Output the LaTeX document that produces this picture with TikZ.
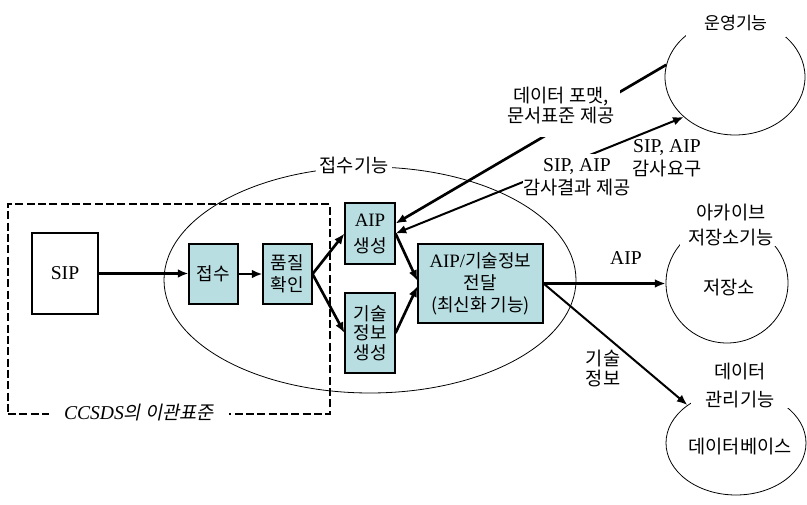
\documentclass[tikz,border=0pt]{standalone}
\usepackage{fontspec}
\setmainfont{Noto Sans CJK KR}
\newfontfamily\lat{Liberation Serif}[Scale=1.05]
\newfontfamily\krsl{Noto Sans CJK KR}[FakeSlant=0.2]
\usetikzlibrary{arrows.meta,shapes.geometric}
\definecolor{boxfill}{RGB}{185,222,225}

\begin{document}
\begin{tikzpicture}[x=0.75pt,y=-0.75pt,
  every node/.style={font=\fontsize{14}{16}\selectfont, inner sep=0pt, align=center},
  pbox/.style={draw, line width=0.8pt, fill=boxfill},
  func/.style={draw, ellipse, line width=0.6pt, inner sep=0pt},
  title/.style={fill=white},
  tipA/.style={-{Latex[length=8pt,width=6.5pt]}},
  flow/.style={line width=2pt, tipA},
  thinflow/.style={line width=1.5pt, tipA},
  border/.style={draw, line width=1.5pt, dash pattern=on 6pt off 2.5pt}]
\useasboundingbox (0,0) rectangle (807,505);

% ingest function (large ellipse) and the CCSDS standard frame
\node[func, minimum width=309pt, minimum height=169.5pt] (ingest) at (370,280) {};
\node[title, inner xsep=3pt, inner ysep=2pt] (ingesttitle) at (354,166) {접수기능};
\node[border, minimum width=241.5pt, minimum height=157.5pt] (ccsds) at (169,309) {};
\node[title, inner xsep=11pt, inner ysep=3pt] (ccsdstitle) at (139,413)
  {{\lat\itshape CCSDS}{\krsl 의 이관표준}};

% outer functions
\node[func, minimum width=105pt, minimum height=87pt] (ops) at (735,77) {};
\node[title, minimum width=75pt, minimum height=21pt, font=\fontsize{13}{15}\selectfont]
  (opstitle) at (736,23) {운영기능};
\node[func, minimum width=91.5pt, minimum height=90pt] (arch) at (727,283) {};
\node[title, minimum width=76pt, font=\fontsize{14}{18.75}\selectfont]
  (archtitle) at (731,225) {아카이브\\저장소기능};
\node (archin) at (729,288) {저장소};
\node[func, minimum width=105pt, minimum height=78pt] (data) at (736,443) {};
\node[title, minimum width=74pt, font=\fontsize{14}{21}\selectfont]
  (datatitle) at (740,386) {데이터\\관리기능};
\node (datain) at (740,447) {데이터베이스};

% process boxes
\node[pbox, fill=white, minimum width=49.5pt, minimum height=60.75pt] (sip) at (65,273.5) {\lat SIP};
\node[pbox, minimum width=36.75pt, minimum height=45pt, font=\fontsize{13.5}{16}\selectfont]
  (recv) at (213.5,274) {접수};
\node[pbox, minimum width=36.75pt, minimum height=45pt, font=\fontsize{13.5}{16.5}\selectfont]
  (qc) at (287.5,274) {품질\\확인};
\node[pbox, minimum width=37.5pt, minimum height=45.75pt, font=\fontsize{13.5}{19.5}\selectfont]
  (aip) at (370,233.5) {{\lat AIP}\\생성};
\node[pbox, minimum width=37.5pt, minimum height=60pt, font=\fontsize{13.5}{14.6}\selectfont]
  (tech) at (370,333) {기술\\정보\\생성};
\node[pbox, minimum width=93.75pt, minimum height=59.25pt, font=\fontsize{13.5}{16.5}\selectfont]
  (deliv) at (480.5,283.5) {{\lat AIP/}기술정보\\전달\\(최신화 기능)};

% flows
\draw[flow] (sip.east) -- (sip.east -| recv.west);
\draw[flow] (recv) -- (qc);
\draw[flow] (qc.east) -- (aip.west);
\draw[flow] (qc.east) -- (tech.west);
\draw[flow] (aip.east) -- ([yshift=2pt]deliv.west);
\draw[flow] (tech.east) -- ([yshift=-2pt]deliv.west);
\draw[flow] (deliv.east) -- (deliv.east -| arch.west);
\draw[thinflow] (deliv.east) -- (data.142);
\draw[flow] (ops.170) -- ([yshift=7.5pt]aip.east);
\draw[thinflow, {Latex[length=8pt,width=6.5pt]}-{Latex[length=8pt,width=6.5pt]}] (aip.east) -- (ops.218);

% flow labels
\fill[white] (505,85) rectangle (620,137);
\node[font=\fontsize{14}{15}\selectfont] (fmtlabel) at (561,106) {데이터 포맷,\\문서표준 제공};
\fill[white] (523,154) rectangle (633,198);
\node[font=\fontsize{14}{17}\selectfont] (auditres) at (577,177.5) {{\lat SIP, AIP}\\감사결과 제공};
\node[font=\fontsize{14}{17}\selectfont] (auditreq) at (667,158) {{\lat SIP, AIP}\\감사요구};
\node (aiplabel) at (626,258) {\lat AIP};
\node[font=\fontsize{14}{15}\selectfont] (techlabel) at (603,369) {기술\\정보};
\end{tikzpicture}
\end{document}
